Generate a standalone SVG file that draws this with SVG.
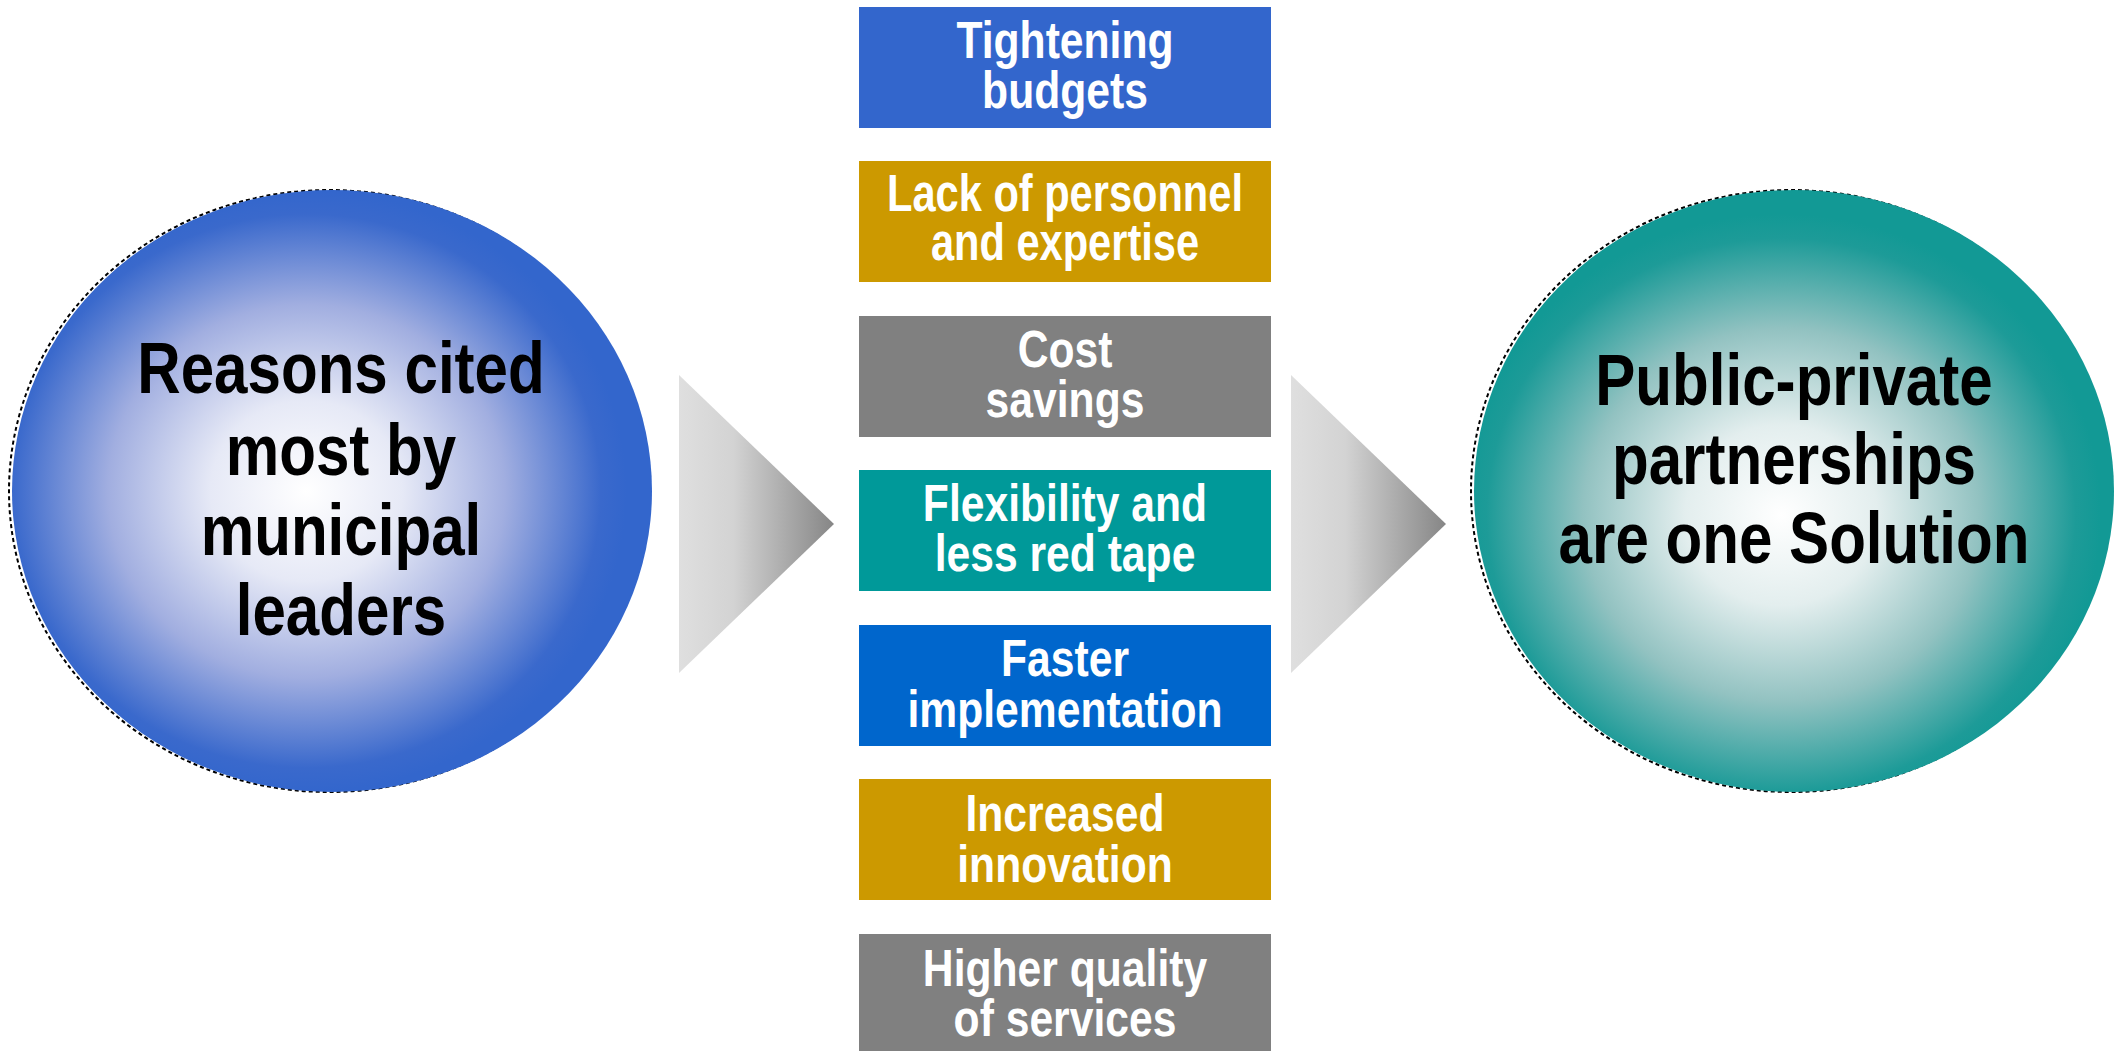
<svg xmlns="http://www.w3.org/2000/svg" width="2117" height="1051" viewBox="0 0 2117 1051">
  <defs>
    <radialGradient id="gradBlue" cx="0.46" cy="0.5" r="0.5">
      <stop offset="0" stop-color="#ffffff"/>
      <stop offset="0.3" stop-color="#e6e9f6"/>
      <stop offset="0.62" stop-color="#a1aee0"/>
      <stop offset="0.92" stop-color="#3a69cc"/>
      <stop offset="1" stop-color="#3366cc"/>
    </radialGradient>
    <radialGradient id="gradTeal" cx="0.48" cy="0.54" r="0.5">
      <stop offset="0" stop-color="#ffffff"/>
      <stop offset="0.3" stop-color="#e3eeee"/>
      <stop offset="0.62" stop-color="#92c2c1"/>
      <stop offset="0.92" stop-color="#1d9b98"/>
      <stop offset="1" stop-color="#129995"/>
    </radialGradient>
    <linearGradient id="gradArrow" x1="0" y1="0" x2="1" y2="0">
      <stop offset="0" stop-color="#dfdfdf"/>
      <stop offset="0.35" stop-color="#d3d3d3"/>
      <stop offset="1" stop-color="#868686"/>
    </linearGradient>
  </defs>
  <style>
    .box-label { font-family: "Liberation Sans", Arial, sans-serif; font-weight: bold; font-size: 52px; fill: #ffffff; text-anchor: middle; }
    .circle-label { font-family: "Liberation Sans", Arial, sans-serif; font-weight: bold; font-size: 72px; fill: #000000; text-anchor: middle; }
    .rim { fill: none; stroke: #000000; stroke-width: 2; stroke-dasharray: 4 3; }
  </style>

  <!-- left circle -->
  <g id="node-reasons">
    <ellipse class="rim" cx="329" cy="491" rx="320" ry="301"/>
    <ellipse cx="332" cy="491" rx="320" ry="301" fill="url(#gradBlue)"/>
    <g transform="matrix(0.835 0 0 1 341 0)">
      <text class="circle-label" x="0" y="393">Reasons cited</text>
      <text class="circle-label" x="0" y="475">most by</text>
      <text class="circle-label" x="0" y="555">municipal</text>
      <text class="circle-label" x="0" y="635">leaders</text>
    </g>
  </g>

  <!-- right circle -->
  <g id="node-ppp">
    <ellipse class="rim" cx="1791" cy="491" rx="320" ry="301"/>
    <ellipse cx="1794" cy="491" rx="320" ry="301" fill="url(#gradTeal)"/>
    <g transform="matrix(0.835 0 0 1 1794 0)">
      <text class="circle-label" x="0" y="405">Public-private</text>
      <text class="circle-label" x="0" y="484">partnerships</text>
      <text class="circle-label" x="0" y="563">are one Solution</text>
    </g>
  </g>

  <!-- reason boxes -->
  <g id="node-budgets">
    <rect x="859" y="7" width="412" height="121" fill="#3366cc"/>
    <g transform="matrix(0.82 0 0 1 1065 7)">
      <text class="box-label" x="0" y="51">Tightening</text>
      <text class="box-label" x="0" y="101">budgets</text>
    </g>
  </g>
  <g id="node-personnel">
    <rect x="859" y="161" width="412" height="121" fill="#cc9900"/>
    <g transform="matrix(0.8 0 0 1 1065 161)">
      <text class="box-label" x="0" y="50">Lack of personnel</text>
      <text class="box-label" x="0" y="99">and expertise</text>
    </g>
  </g>
  <g id="node-cost">
    <rect x="859" y="316" width="412" height="121" fill="#808080"/>
    <g transform="matrix(0.82 0 0 1 1065 316)">
      <text class="box-label" x="0" y="51">Cost</text>
      <text class="box-label" x="0" y="101">savings</text>
    </g>
  </g>
  <g id="node-flexibility">
    <rect x="859" y="470" width="412" height="121" fill="#009999"/>
    <g transform="matrix(0.82 0 0 1 1065 470)">
      <text class="box-label" x="0" y="51">Flexibility and</text>
      <text class="box-label" x="0" y="101">less red tape</text>
    </g>
  </g>
  <g id="node-faster">
    <rect x="859" y="625" width="412" height="121" fill="#0066cc"/>
    <g transform="matrix(0.82 0 0 1 1065 625)">
      <text class="box-label" x="0" y="51">Faster</text>
      <text class="box-label" x="0" y="102">implementation</text>
    </g>
  </g>
  <g id="node-innovation">
    <rect x="859" y="779" width="412" height="121" fill="#cc9900"/>
    <g transform="matrix(0.82 0 0 1 1065 779)">
      <text class="box-label" x="0" y="52">Increased</text>
      <text class="box-label" x="0" y="103">innovation</text>
    </g>
  </g>
  <g id="node-quality">
    <rect x="859" y="934" width="412" height="121" fill="#808080"/>
    <g transform="matrix(0.82 0 0 1 1065 934)">
      <text class="box-label" x="0" y="52">Higher quality</text>
      <text class="box-label" x="0" y="102">of services</text>
    </g>
  </g>

  <!-- connectors: gradient chevrons -->
  <g id="connectors">
    <polygon points="679,375 834,524 679,673" fill="url(#gradArrow)"/>
    <polygon points="1291,375 1446,524 1291,673" fill="url(#gradArrow)"/>
  </g>
</svg>
